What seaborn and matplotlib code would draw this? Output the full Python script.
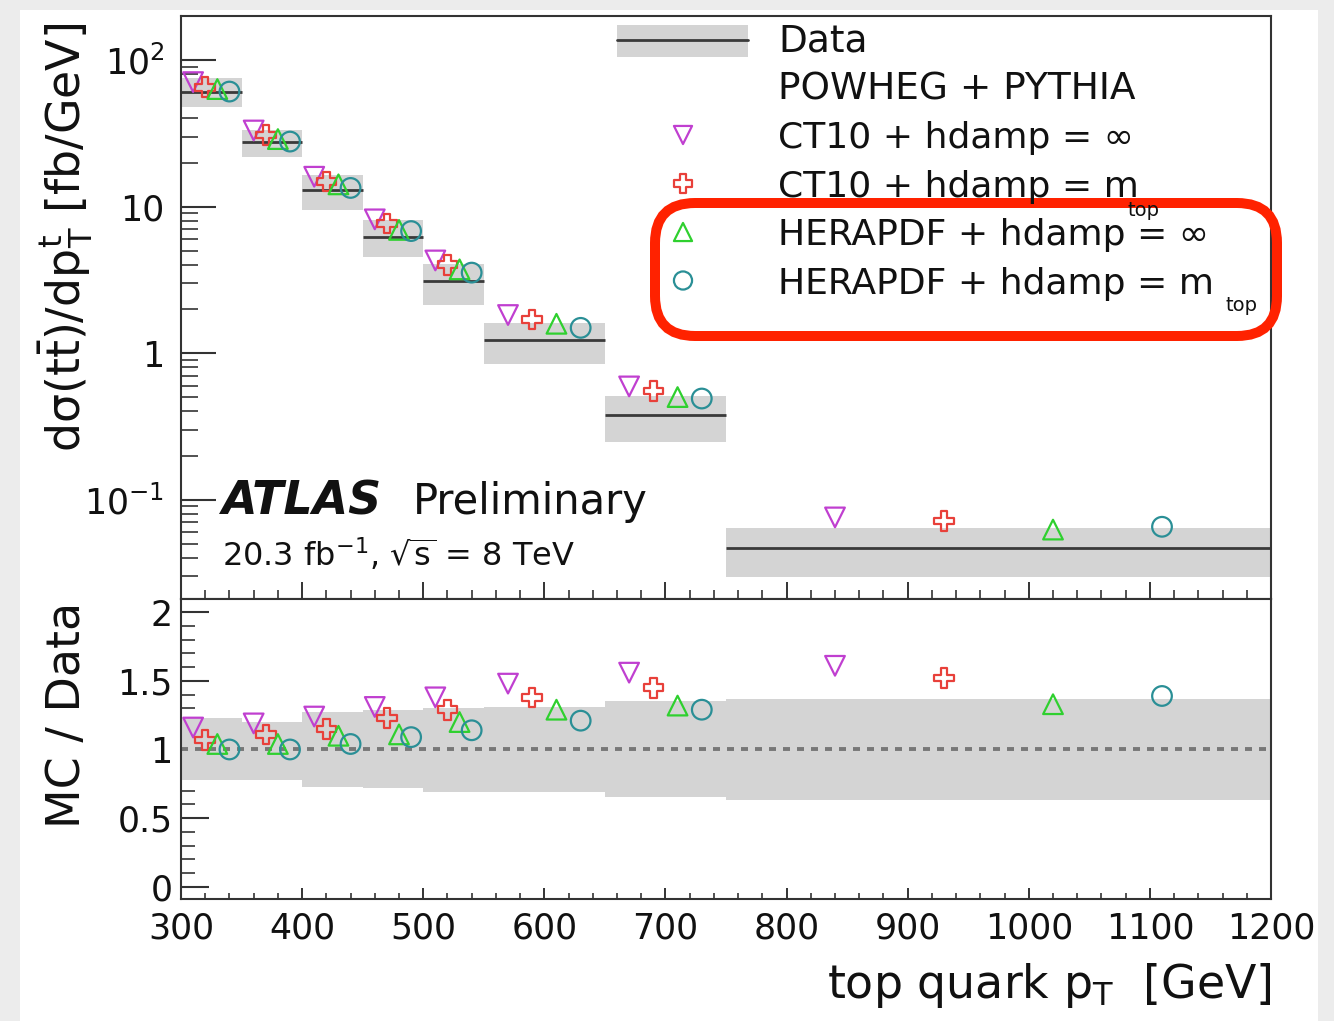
import matplotlib
matplotlib.use("Agg")
import matplotlib.pyplot as plt
import seaborn as sns
import numpy as np
import pandas as pd
from matplotlib.patches import Rectangle, FancyBboxPatch
from matplotlib.ticker import (FixedLocator, FixedFormatter, MultipleLocator,
                               LogLocator, NullFormatter)

# top quark pT bins [GeV]
bin_edges = [300, 350, 400, 450, 500, 550, 650, 750, 1200]
# measured dsigma/dpT [fb/GeV]
data_xsec = [61.0, 27.8, 12.9, 6.25, 3.11, 1.23, 0.38, 0.047]
# relative total uncertainty of the data (up / down)
data_err_up = [0.23, 0.20, 0.27, 0.29, 0.30, 0.31, 0.35, 0.37]
data_err_dn = [0.22, 0.22, 0.27, 0.28, 0.31, 0.31, 0.35, 0.37]

# MC / Data for the POWHEG + PYTHIA setups
ratio_ct10_inf = [1.16, 1.19, 1.24, 1.31, 1.38, 1.48, 1.56, 1.61]
ratio_ct10_mtop = [1.07, 1.11, 1.15, 1.23, 1.29, 1.38, 1.45, 1.52]
ratio_hera_inf = [1.04, 1.04, 1.10, 1.11, 1.20, 1.29, 1.32, 1.33]
ratio_hera_mtop = [1.00, 1.00, 1.04, 1.09, 1.14, 1.21, 1.29, 1.39]

model_labels = ["CT10 + hdamp = \u221e", "CT10 + hdamp = m",
                "HERAPDF + hdamp = \u221e", "HERAPDF + hdamp = m"]

sns.set_style("ticks")
plt.rcParams["font.family"] = ["DejaVu Sans"]
plt.rcParams["mathtext.fontset"] = "dejavusans"

W, H = 1334, 1021


def fx(px):
    return px / W


def fy(py):
    return 1 - py / H


edges = np.array(bin_edges, dtype=float)
lo_edge, widths = edges[:-1], np.diff(edges)
data = np.array(data_xsec)
up, dn = np.array(data_err_up), np.array(data_err_dn)

models = [
    (ratio_ct10_inf, "v", "#c03fd0", 0.2),
    (ratio_ct10_mtop, "P", "#e8403a", 0.4),
    (ratio_hera_inf, "^", "#2fd02f", 0.6),
    (ratio_hera_mtop, "o", "#2a8f96", 0.8),
]
band_color = "#d4d4d4"
line_color = "#3a3a3a"

fig = plt.figure(figsize=(W / 100, H / 100), dpi=100)
fig.patch.set_facecolor("#ececec")
fig.add_artist(Rectangle((fx(20), 0), fx(1318) - fx(20), fy(10), transform=fig.transFigure,
                         facecolor="white", edgecolor="none", zorder=-10))

ax = fig.add_axes([fx(181), fy(599), fx(1271) - fx(181), fy(16) - fy(599)])
rax = fig.add_axes([fx(181), fy(899), fx(1271) - fx(181), fy(599) - fy(899)])

# --- top panel: cross section
ax.bar(lo_edge, data * (up + dn), width=widths, bottom=data * (1 - dn), align="edge",
       color=band_color, linewidth=0, zorder=1)
ax.hlines(data, lo_edge, edges[1:], colors=line_color, lw=2, zorder=2)
# --- bottom panel: ratio
rax.bar(lo_edge, up + dn, width=widths, bottom=1 - dn, align="edge",
        color=band_color, linewidth=0, zorder=1)
rax.axhline(1, color="#777777", lw=2.8, ls=(0, (1.8, 1.8)), zorder=2)

for ratio, mk, col, frac in models:
    df = pd.DataFrame({"pt": lo_edge + frac * widths, "ratio": ratio})
    df["xsec"] = df["ratio"] * data
    style = dict(marker=mk, s=200, color=col, facecolor="none", edgecolor=col,
                 linewidth=1.6, legend=False, zorder=5)
    sns.scatterplot(data=df, x="pt", y="xsec", ax=ax, **style)
    sns.scatterplot(data=df, x="pt", y="ratio", ax=rax, **style)

for a in (ax, rax):
    a.set_xlim(300, 1200)
    a.set_xlabel("")
    a.set_ylabel("")
    a.xaxis.set_major_locator(MultipleLocator(100))
    a.xaxis.set_minor_locator(MultipleLocator(20))
    for sp in a.spines.values():
        sp.set_linewidth(1.5)
        sp.set_color("#333333")
        sp.set_visible(True)

ax.set_yscale("log")
ax.set_ylim(0.021, 200)
ax.yaxis.set_major_locator(FixedLocator([0.1, 1, 10, 100]))
ax.yaxis.set_major_formatter(FixedFormatter(["$10^{-1}$", "1", "10", "$10^{2}$"]))
ax.yaxis.set_minor_locator(LogLocator(base=10, subs=np.arange(2, 10), numticks=20))
ax.yaxis.set_minor_formatter(NullFormatter())
ax.tick_params(axis="y", which="major", direction="in", length=25, width=1.5,
               labelsize=25, pad=12, colors="#333333", labelcolor="#111111")
ax.tick_params(axis="y", which="minor", direction="in", length=12.5, width=1.2, colors="#333333")
ax.tick_params(axis="x", which="major", direction="in", length=12, width=1.4,
               labelbottom=False, colors="#333333")
ax.tick_params(axis="x", which="minor", direction="in", length=6.5, width=1.2, colors="#333333")

rax.set_ylim(-0.09, 2.097)
rax.yaxis.set_major_locator(FixedLocator([0, 0.5, 1, 1.5, 2]))
rax.yaxis.set_major_formatter(FixedFormatter(["0", "0.5", "1", "1.5", "2"]))
rax.yaxis.set_minor_locator(MultipleLocator(0.1))
rax.tick_params(axis="y", which="major", direction="in", length=20, width=1.5,
                labelsize=25, pad=6, colors="#333333", labelcolor="#111111")
rax.tick_params(axis="y", which="minor", direction="in", length=10, width=1.2, colors="#333333")
rax.tick_params(axis="x", which="major", direction="in", length=8, width=1.4,
                labelsize=25, pad=9, colors="#333333", labelcolor="#111111")
rax.tick_params(axis="x", which="minor", direction="in", length=4, width=1.2, colors="#333333")

# axis titles
fig.text(fx(1272), fy(998), "top quark p$_{\\rm T}$  [GeV]", ha="right", va="baseline",
         fontsize=33, color="#111111")
fig.text(fx(66), fy(237), "d\u03c3(t$\\bar{\\rm t}$)/dp$_{\\rm T}^{\\rm t}$ [fb/GeV]",
         rotation=90, ha="center", va="center", fontsize=33, color="#111111")
fig.text(fx(68), fy(715), "MC / Data", rotation=90, ha="center", va="center",
         fontsize=33, color="#111111")

fig.text(fx(222), fy(514), "ATLAS", fontweight="bold", fontstyle="italic", fontsize=33,
         va="baseline", color="#111111")
fig.text(fx(413), fy(514), "Preliminary", fontsize=30, va="baseline", color="#111111")
fig.text(fx(222), fy(566), "20.3 fb$^{-1}$, $\\sqrt{\\rm s}$ = 8 TeV", fontsize=23,
         va="baseline", color="#111111")

# overlay in pixel coordinates for the legend and the highlight box
ov = fig.add_axes([0, 0, 1, 1], zorder=10)
ov.set_xlim(0, W)
ov.set_ylim(H, 0)
ov.axis("off")
ov.patch.set_alpha(0)

ov.add_patch(Rectangle((617, 25), 131, 32, facecolor=band_color, edgecolor="none"))
ov.plot([617, 748], [40, 40], color=line_color, lw=2)
baselines = [51, 99.5, 148, 196.5, 245, 293.5]
ov.text(778, baselines[0], "Data", fontsize=27, va="baseline", color="#111111")
ov.text(778, baselines[1], "POWHEG + PYTHIA", fontsize=27, va="baseline", color="#111111")
for i, ((ratio, mk, col, frac), lab) in enumerate(zip(models, model_labels)):
    yb = baselines[i + 2]
    ov.scatter([683], [yb - 13], marker=mk, s=170, facecolor="none", edgecolor=col, linewidth=1.6)
    ov.text(778, yb, lab, fontsize=26, va="baseline", color="#111111")
ov.text(1128, 216, "top", fontsize=14, va="baseline", color="#111111")
ov.text(1226, 311, "top", fontsize=14, va="baseline", color="#111111")

ov.add_patch(FancyBboxPatch((655, 203), 622, 133, boxstyle="round,pad=0,rounding_size=40",
                            facecolor="none", edgecolor="#ff2200", lw=7.2))

fig.savefig("out.png", dpi=100, facecolor=fig.get_facecolor())
